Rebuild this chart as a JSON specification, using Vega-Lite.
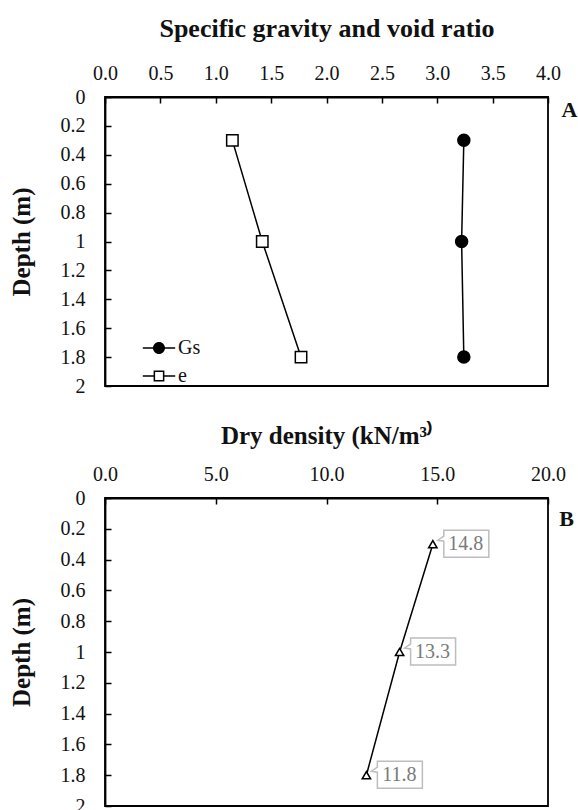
{
  "$schema": "https://vega.github.io/schema/vega-lite/v6.json",
  "padding": {"left": 8, "top": 14, "right": 0, "bottom": 0},
  "background": "#ffffff",
  "bounds": "flush",
  "spacing": 112,
  "datasets": {
    "props": [
      {"param": "Gs", "depth": 0.3, "value": 3.24},
      {"param": "Gs", "depth": 1.0, "value": 3.22},
      {"param": "Gs", "depth": 1.8, "value": 3.24},
      {"param": "e", "depth": 0.3, "value": 1.15},
      {"param": "e", "depth": 1.0, "value": 1.42},
      {"param": "e", "depth": 1.8, "value": 1.77}
    ],
    "density": [
      {"depth": 0.3, "density": 14.8},
      {"depth": 1.0, "density": 13.3},
      {"depth": 1.8, "density": 11.8}
    ]
  },
  "vconcat": [
    {
      "width": 443,
      "height": 289,
      "title": {"text": "A", "orient": "right", "anchor": "start", "frame": "group", "angle": 0, "align": "left", "baseline": "top", "offset": -15, "dy": 3, "font": "Liberation Serif", "fontSize": 22, "fontWeight": "bold", "color": "#111"},
      "data": {"name": "props"},
      "encoding": {
        "x": {
          "field": "value", "type": "quantitative",
          "scale": {"domain": [0, 4], "nice": false},
          "axis": {"orient": "top", "title": "Specific gravity and void ratio", "titleFontSize": 26, "values": [0, 0.5, 1, 1.5, 2, 2.5, 3, 3.5, 4], "format": ".1f", "labelPadding": 20, "titlePadding": 22, "labelOverlap": false}
        },
        "y": {
          "field": "depth", "type": "quantitative",
          "scale": {"domain": [0, 2], "reverse": true, "nice": false},
          "axis": {"title": "Depth (m)", "values": [0, 0.2, 0.4, 0.6, 0.8, 1, 1.2, 1.4, 1.6, 1.8, 2], "format": "~g", "labelPadding": 26, "titlePadding": 26, "labelOverlap": false}
        }
      },
      "layer": [
        {
          "mark": {"type": "line", "color": "#000", "strokeWidth": 1.5},
          "encoding": {
            "detail": {"field": "param"},
            "order": {"field": "depth"}
          }
        },
        {
          "description": "Legend carrier: solid line-and-marker glyphs for the key, hidden in the plot",
          "mark": {"type": "point", "filled": true, "fill": "#000000", "size": 144, "opacity": 0},
          "encoding": {
            "shape": {
              "field": "param", "type": "nominal",
              "scale": {
                "domain": ["Gs", "e"],
                "range": [
                  "M-2.7,-0.13H-0.95V0.13H-2.7Z M0.95,-0.13H2.7V0.13H0.95Z M-1,0A1,1 0 1,1 1,0A1,1 0 1,1 -1,0Z",
                  "M-2.7,-0.13H-0.9V0.13H-2.7Z M0.9,-0.13H2.7V0.13H0.9Z M-0.9,-0.9H0.9V0.9H-0.9Z M-0.65,-0.65V0.65H0.65V-0.65Z"
                ]
              },
              "legend": {"title": null, "orient": "none", "legendX": -4, "legendY": 241, "symbolOpacity": 1, "symbolFillColor": "#000000", "symbolStrokeWidth": 0}
            }
          }
        },
        {
          "transform": [{"filter": "datum.param === 'Gs'"}],
          "mark": {"type": "point", "shape": "circle", "filled": true, "fill": "#000", "size": 144, "stroke": "#000", "strokeWidth": 1.5, "opacity": 1}
        },
        {
          "transform": [{"filter": "datum.param === 'e'"}],
          "mark": {"type": "point", "shape": "square", "filled": true, "fill": "#fff", "size": 130, "stroke": "#000", "strokeWidth": 1.5, "opacity": 1}
        }
      ]
    },
    {
      "width": 443,
      "height": 308,
      "title": {"text": "B", "orient": "right", "anchor": "start", "frame": "group", "angle": 0, "align": "left", "baseline": "top", "offset": -21, "dy": 11, "font": "Liberation Serif", "fontSize": 22, "fontWeight": "bold", "color": "#111"},
      "data": {"name": "density"},
      "encoding": {
        "x": {
          "field": "density", "type": "quantitative",
          "scale": {"domain": [0, 20], "nice": false},
          "axis": {"orient": "top", "title": "Dry density (kN/m³⁾", "values": [0, 5, 10, 15, 20], "format": ".1f", "labelPadding": 20, "titlePadding": 16, "labelOverlap": false}
        },
        "y": {
          "field": "depth", "type": "quantitative",
          "scale": {"domain": [0, 2], "reverse": true, "nice": false},
          "axis": {"title": "Depth (m)", "values": [0, 0.2, 0.4, 0.6, 0.8, 1, 1.2, 1.4, 1.6, 1.8, 2], "format": "~g", "labelPadding": 26, "titlePadding": 26, "labelOverlap": false}
        }
      },
      "layer": [
        {
          "mark": {"type": "line", "color": "#000", "strokeWidth": 1.5},
          "encoding": {"order": {"field": "depth"}}
        },
        {
          "mark": {"type": "point", "shape": "M11,-14H56V13H11V-3L5,-4L11,-8Z", "size": 4, "filled": true, "fill": "#ffffff", "stroke": "#bdbdbd", "strokeWidth": 1.5, "opacity": 1},
          "encoding": {}
        },
        {
          "mark": {"type": "point", "shape": "triangle-up", "size": 70, "filled": true, "fill": "#ffffff", "stroke": "#000", "strokeWidth": 1.5, "opacity": 1},
          "encoding": {}
        },
        {
          "mark": {"type": "text", "align": "center", "baseline": "middle", "dx": 33, "dy": 0, "font": "Liberation Serif", "fontSize": 20, "color": "#7a7a7a"},
          "encoding": {"text": {"field": "density", "type": "quantitative", "format": ".1f"}}
        }
      ]
    }
  ],
  "config": {
    "view": {"stroke": "#000", "strokeWidth": 1.8},
    "axis": {
      "grid": false,
      "labelFont": "Liberation Serif", "labelFontSize": 20, "labelColor": "#111",
      "titleFont": "Liberation Serif", "titleFontSize": 25, "titleFontWeight": "bold", "titleColor": "#111",
      "tickColor": "#000", "tickSize": -6, "tickWidth": 1.5,
      "domainColor": "#000", "domainWidth": 1.8,
      "labelOverlap": false, "labelFlush": false
    },
    "legend": {
      "labelFont": "Liberation Serif", "labelFontSize": 20, "labelColor": "#111",
      "symbolSize": 144,
      "symbolOffset": 48, "labelOffset": 9, "rowPadding": 8, "padding": 0
    }
  }
}
